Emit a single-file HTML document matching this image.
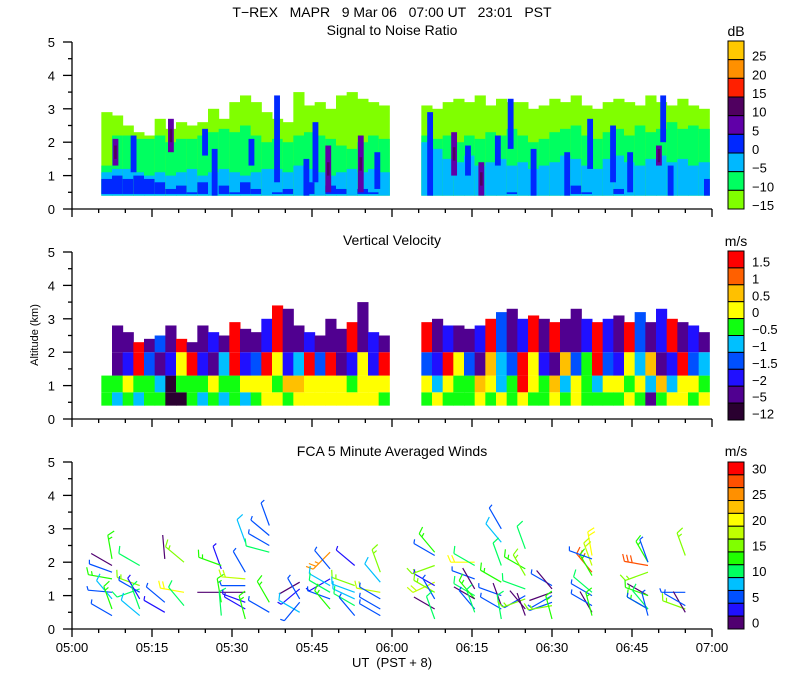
<!DOCTYPE html>
<html><head><meta charset="utf-8"><style>
html,body{margin:0;padding:0;background:#fff}
svg{display:block}
text{font-family:"Liberation Sans",sans-serif;fill:#000}
</style></head><body>
<svg id="chart" width="800" height="700" viewBox="0 0 800 700" xmlns="http://www.w3.org/2000/svg">
<text x="392" y="17" font-size="14" text-anchor="middle" xml:space="preserve">T−REX   MAPR   9 Mar 06   07:00 UT   23:01   PST</text>
<text x="392" y="35" font-size="14" text-anchor="middle">Signal to Noise Ratio</text>
<text x="392" y="245" font-size="14" text-anchor="middle">Vertical Velocity</text>
<text x="392" y="456" font-size="14" text-anchor="middle">FCA 5 Minute Averaged Winds</text>
<text x="38" y="335" font-size="11" text-anchor="middle" transform="rotate(-90 38 335)">Altitude (km)</text>
<text x="392" y="667" font-size="13" text-anchor="middle" xml:space="preserve">UT  (PST + 8)</text>
<g id="g"></g>
</svg>
<script>
// ---------- data ----------
const colTimes = [5.5,7.5,9.5,11.5,13.5,15.5,17.5,19.5,21.5,23.5,25.5,27.5,29.5,31.5,33.5,35.5,37.5,39.5,41.5,43.5,45.5,47.5,49.5,51.5,53.5,55.5,57.5,
 65.5,67.5,69.5,71.5,73.5,75.5,77.5,79.5,81.5,83.5,85.5,87.5,89.5,91.5,93.5,95.5,97.5,99.5,101.5,103.5,105.5,107.5,109.5,111.5,113.5,115.5,117.5];
const snrTop = [2.9,2.8,2.5,2.3,2.2,2.7,2.4,2.6,2.5,2.6,3.0,2.7,3.2,3.4,3.2,2.9,2.7,2.6,3.5,3.1,3.2,3.0,3.4,3.5,3.3,3.2,3.1,
 3.1,3.0,3.2,3.3,3.2,3.4,3.1,3.3,3.2,3.2,3.0,3.1,3.3,3.2,3.4,3.1,3.0,3.2,3.3,3.2,3.1,3.4,3.2,3.1,3.3,3.1,3.0];
const snrGreenTop = [1.3,2.2,2.2,2.1,2.1,2.2,2.0,2.1,2.1,2.2,2.3,2.4,2.3,2.5,2.2,2.0,2.1,2.0,2.2,2.3,2.2,2.1,1.9,1.8,2.0,2.2,2.1,
 2.2,2.1,2.2,2.0,2.2,2.1,2.3,2.2,2.4,2.2,2.0,2.1,2.3,2.4,2.5,2.2,2.1,2.3,2.4,2.2,2.5,2.3,2.4,2.6,2.4,2.5,2.4];
const snrCyanTop = [1.1,1.2,1.2,1.1,1.0,1.1,1.0,1.1,1.2,1.0,1.1,1.2,1.1,1.0,1.1,1.2,1.2,1.1,1.3,1.2,1.1,1.0,1.1,1.2,1.1,1.2,1.1,
 2.0,1.8,1.5,1.4,1.6,1.3,1.4,1.5,1.3,1.4,1.2,1.3,1.4,1.6,1.5,1.3,1.2,1.5,1.6,1.4,1.3,1.5,1.6,1.4,1.5,1.3,1.4];
const snrBlueTop = [0.9,1.0,0.9,1.0,0.9,0.8,0.6,0.7,0.5,0.8,0,0.7,0.5,0.8,0.6,0,0.5,0.6,0,0.8,0,0.7,0.6,0,0.6,0.5,0,
 0,0,0,0,0,0,0,0,0.5,0,0,0,0,0,0.7,0.5,0,0,0.6,0,0,0,0,0,0,0,0];
const streakTimes = [8.1,11.5,18.5,24.9,26.7,33.6,38.4,43.9,45.6,48,54.1,57.2,67.1,71.6,74.2,76.7,79.8,82.2,86.5,92.8,97.1,101.4,104.6,110,110.8,112.2,119];
const streakBottoms = [1.3,1.1,1.7,1.6,0.4,1.3,0.8,0.4,0.8,0.5,0.5,0.6,0.4,1.0,1.0,0.4,1.3,1.8,0.4,0.4,1.2,0.8,0.5,1.3,2.0,0.4,0.4];
const streakTops = [2.1,2.2,2.7,2.4,1.8,2.1,3.4,1.5,2.6,1.9,2.2,1.7,2.9,2.3,1.9,1.4,2.2,3.3,1.8,1.7,2.7,2.5,1.7,1.9,3.4,1.3,0.9];
const streakKinds = "pbpbbbbbbppbbpbpbbbbbbbpbbb";

const velTop = [1.3,2.8,2.6,2.3,2.4,2.5,2.8,2.4,2.3,2.8,2.6,2.5,2.9,2.7,2.6,3.0,3.4,3.3,2.8,2.6,2.5,3.0,2.7,2.9,3.5,2.6,2.5,
 2.9,3.0,2.8,2.8,2.7,2.8,3.0,3.2,3.3,3.0,3.1,3.0,2.9,3.0,3.3,3.0,2.9,3.0,3.1,2.9,3.2,2.9,3.3,3.0,2.9,2.8,2.6];
const velBandEdges = [0.4,0.8,1.3,2.0];
const velBand1 = "545455005454545665666666665"+"565556565655656555565156656";
const velBand2 = "556554055565566657766665666"+"646557645965746546656474665";
const velBand3 = "412931269214923962493912629"+"329631743962173593264712934";
const velBand4 = "511913191121911291121119121"+"912112931291911292193129121";

const windTimes = [7.5,7.5,7.5,7.5,7.5,7.5,7.5,7.5, 12.7,12.7,12.7,12.7,12.7,12.7,12.7, 17.4,17.4,17.4, 21,21,21,
 28,28,28,28,28, 32.5,32.5,32.5,32.5,32.5,32.5,32.5,32.5, 37,37,37,37,37,37, 42.7,42.7,42.7,42.7,42.7,
 48.4,48.4,48.4,48.4,48.4,48.4,48.4, 53,53,53,53,53,53, 57.8,57.8,57.8,57.8,57.8,57.8,
 68,68,68,68,68,68,68,68,68, 75.5,75.5,75.5,75.5,75.5,75.5,75.5,75.5,75.5, 80.5,80.5,80.5,80.5,80.5,80.5,80.5,80.5,
 85,85,85,85,85,85,85,85, 90,90,90,90,90,90,90, 97.5,97.5,97.5,97.5,97.5,97.5,97.5,97.5,97.5,97.5,
 108,108,108,108,108,108,108,108,108,108, 115,115,115,115,115];
const windHeights = [2.1,1.9,1.7,1.5,1.1,0.9,0.6,0.4, 1.9,1.3,1.2,1.1,0.9,0.6,0.4, 2.1,0.8,0.5, 2.0,1.1,0.7,
 1.1,1.8,1.9,0.8,0.4, 2.6,1.5,1.3,1.1,0.8,0.6,0.3,1.7, 3.1,2.8,2.5,2.3,0.8,0.5, 1.4,1.2,0.9,0.5,0.8,
 2.3,1.8,1.5,1.3,1.1,0.9,0.6, 1.9,1.3,1.1,0.9,0.7,0.4, 1.7,1.4,1.1,0.9,0.6,0.4,
 2.3,2.2,1.9,1.4,1.3,1.1,0.9,0.6,0.3, 2.0,1.9,1.5,1.2,1.0,0.9,0.9,0.6,0.5, 3.0,2.6,1.9,1.4,1.0,0.7,0.6,0.3,
 2.4,1.8,1.6,1.2,1.0,0.9,0.6,0.4, 1.1,1.0,0.8,0.7,1.3,1.2,0.3, 2.2,1.9,1.7,1.6,1.1,1.0,0.5,0.7,0.4,2.1,
 2.0,1.9,1.7,2.0,1.0,1.0,0.6,0.6,0.6,0.4, 2.2,1.1,0.6,0.5,0.7];
const windDirs = [350,300,290,280,275,320,340,300, 300,290,250,300,330,340,310, 355,310,300, 310,280,320,
 270,340,290,350,355, 340,275,270,270,290,300,345,330, 340,310,300,285,330,300, 240,230,330,300,220,
 225,320,240,300,300,290,320, 310,290,290,295,300,320, 340,320,280,300,300,300,
 320,300,250,245,300,300,330,300,340, 270,300,290,330,300,320,300,320,340, 330,320,340,300,290,340,300,350,
 340,300,330,290,240,250,320,340, 250,240,250,260,300,320,345, 350,340,320,330,310,300,330,300,345,290,
 330,280,250,340,300,290,300,300,320,345, 340,270,290,330,300];
const windSpeeds = [14,1,7,14,6,9,13,5, 12,17,10,5,4,12,9, 1,6,3, 17,20,10,
 2,3,13,13,12, 9,19,6,2,3,4,13,6, 5,5,6,12,13,5, 2,3,5,9,5,
 26,5,3,9,10,6,13, 4,16,9,9,12,6, 17,9,19,6,5,5,
 13,6,16,19,3,16,6,2,12, 21,10,6,2,10,13,2,6,12, 6,9,10,13,6,2,6,10,
 10,13,16,12,6,16,2,2, 2,6,6,16,6,2,13, 20,19,28,13,10,6,2,6,13,6,
 13,29,16,6,2,13,13,6,10,6, 16,6,16,2,6];

const snrTicks = ["25","20","15","10","5","0","−5","−10","−15"];
const velTicks = ["1.5","1","0.5","0","−0.5","−1","−1.5","−2","−5","−12"];
const windTicks = ["30","25","20","15","10","5","0"];
const timeLabels = ["05:00","05:15","05:30","05:45","06:00","06:15","06:30","06:45","07:00"];
const altLabels = ["0","1","2","3","4","5"];

// ---------- styles ----------
const snrColors = ["#ffc800","#ff9000","#ff2000","#500060","#6000a8","#0028ff","#00b8ff","#00ff60","#80ff00"];
const velColors = ["#2a0030","#500090","#2010ff","#0050ff","#00c0ff","#10ff10","#ffff00","#ffc000","#ff6000","#ff0000"];
const windColors = ["#500070","#2010ff","#0050ff","#00c0ff","#00ff60","#20ff00","#80ff00","#c0ff00","#ffff00","#ffc000","#ff9000","#ff5000","#ff0000"];
const panels = [{top:42,bot:209},{top:252,bot:419},{top:462,bot:629}];
const X0=72,X1=712;
const xs = t => X0 + t*(X1-X0)/120;
const ys = (p,h) => panels[p].bot - h*(panels[p].bot-panels[p].top)/5;
const NS="http://www.w3.org/2000/svg";
const g=document.getElementById('g');
function el(tag,attrs,parent){const e=document.createElementNS(NS,tag);for(const k in attrs)e.setAttribute(k,attrs[k]);(parent||g).appendChild(e);return e;}
const colW = 2;

// ---------- SNR ----------
const snrG=el('g',{});


function band(parent,p,t,w,h0,h1,color,name){
  if(h1<=h0) return;
  const r=el('rect',{x:xs(t),y:ys(p,h1),width:xs(t+w)-xs(t)+0.5,height:ys(p,h0)-ys(p,h1),fill:color},parent);
  
  
}
colTimes.forEach((t,i)=>{
  band(snrG,0,t,colW,0.4,snrTop[i],snrColors[8],'snr-cell');
  band(snrG,0,t,colW,0.4,snrGreenTop[i],snrColors[7],'snr-cell');
  band(snrG,0,t,colW,0.4,snrCyanTop[i],snrColors[6],'snr-cell');
  if(snrBlueTop[i]>0) band(snrG,0,t,colW,0.45,snrBlueTop[i],snrColors[5],'snr-cell');
});
streakTimes.forEach((t,i)=>{
  band(snrG,0,t-0.5,1,streakBottoms[i],streakTops[i],streakKinds[i]==='p'?snrColors[4]:snrColors[5],'snr-streak');
  if(streakKinds[i]==='p') band(snrG,0,t-0.2,0.4,(streakBottoms[i]+streakTops[i])/2-0.2,(streakBottoms[i]+streakTops[i])/2+0.2,snrColors[3],'snr-streak-core');
});

// ---------- Velocity ----------
const velG=el('g',{});


const velBands=[velBand1,velBand2,velBand3,velBand4];
colTimes.forEach((t,i)=>{
  for(let b=0;b<4;b++){
    const h0=velBandEdges[b];
    const h1=b<3?Math.min(velBandEdges[b+1],velTop[i]):velTop[i];
    band(velG,1,t,colW,h0,h1,velColors[+velBands[b][i]],'velocity-cell');
  }
});

// ---------- Winds ----------
const windG=el('g',{'stroke-width':1.2,fill:'none'});


windTimes.forEach((t,i)=>{
  const x=xs(t), y=ys(2,windHeights[i]);
  const a=windDirs[i]*Math.PI/180, L=24;
  const dx=Math.sin(a), dy=-Math.cos(a);
  const ci=Math.max(0,Math.min(12,Math.floor(windSpeeds[i]/2.5)));
  const c=windColors[ci];
  const ex=x+dx*L, ey=y+dy*L;
  let d=`M${x.toFixed(1)},${y.toFixed(1)}L${ex.toFixed(1)},${ey.toFixed(1)}`;
  let s=windSpeeds[i], pos=0;
  const px=-dy, py=dx;
  while(s>=7.5 && pos<4){const bx=ex-dx*pos*4,by=ey-dy*pos*4;d+=`M${bx.toFixed(1)},${by.toFixed(1)}l${(px*7+dx*3).toFixed(1)},${(py*7+dy*3).toFixed(1)}`;s-=10;pos++;}
  if(s>=2.5){const bx=ex-dx*pos*4,by=ey-dy*pos*4;d+=`M${bx.toFixed(1)},${by.toFixed(1)}l${(px*4+dx*1.5).toFixed(1)},${(py*4+dy*1.5).toFixed(1)}`;}
  const p=el('path',{d:d,stroke:c},windG);
  
  
});

// ---------- Axes ----------
panels.forEach((pn,p)=>{
  const ax=el('g',{stroke:'#000','stroke-width':1.3,fill:'none'});
  
  
  el('line',{x1:X0,y1:pn.top,x2:X0,y2:pn.bot},ax);
  el('line',{x1:X0,y1:pn.bot,x2:X1,y2:pn.bot},ax);
  for(let k=0;k<=10;k++){
    const yy=ys(p,k/2);
    el('line',{x1:X0-(k%2?4:9),y1:yy,x2:X0,y2:yy},ax);
  }
  for(let m=0;m<=24;m++){
    const xx=xs(m*5);
    el('line',{x1:xx,y1:pn.bot,x2:xx,y2:pn.bot+(m%3?4:8)},ax);
  }
  altLabels.forEach((lab,k)=>{
    const tx=el('text',{x:55,y:ys(p,k)+5,'font-size':13,'text-anchor':'end'});
    tx.textContent=lab;
    
    
  });
});
timeLabels.forEach((lab,k)=>{
  const tx=el('text',{x:xs(k*15),y:652,'font-size':13,'text-anchor':'middle'});
  tx.textContent=lab;
  
  
});

// ---------- Colorbars ----------
function colorbar(name,x,top,bot,colors,unit,unitY,labels,labelY){
  const cb=el('g',{});
  
  
  const n=colors.length,h=(bot-top)/n;
  colors.forEach((c,i)=>{
    const r=el('rect',{x:x,y:top+i*h,width:16,height:h,fill:c,stroke:'#000','stroke-width':1},cb);
    
    
  });
  const u=el('text',{x:x+8,y:unitY,'font-size':14,'text-anchor':'middle'},cb);
  u.textContent=unit;
  
  
  labels.forEach((lab,i)=>{
    const t=el('text',{x:x+24,y:labelY(i,h)+5,'font-size':13},cb);
    t.textContent=lab;
    
    
  });
}
colorbar('snr-colorbar',728,41,209,snrColors,'dB',36,snrTicks,(i,h)=>41+(i+1)*h-4);
colorbar('velocity-colorbar',728,251,420,velColors.slice().reverse(),'m/s',246,velTicks,(i,h)=>251+(i+0.5)*h+2);
colorbar('winds-colorbar',728,462,629,windColors.slice().reverse(),'m/s',456,windTicks,(i,h)=>462+(2*i+0.5)*h);
</script>
</body></html>
